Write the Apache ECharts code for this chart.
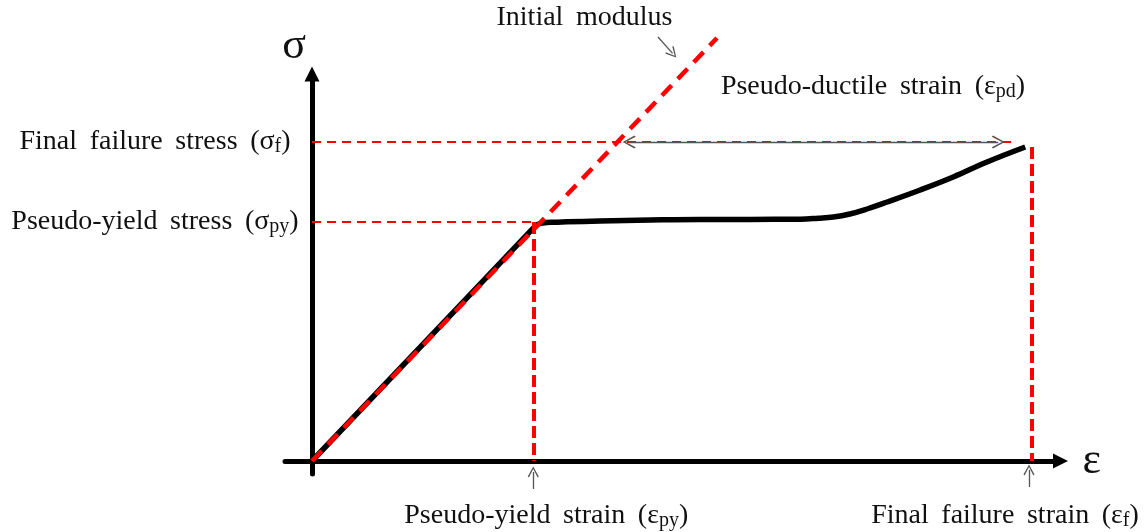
<!DOCTYPE html>
<html><head><meta charset="utf-8">
<script src="https://cdn.jsdelivr.net/npm/echarts@6/dist/echarts.min.js"></script>
<style>html,body{margin:0;padding:0;background:#fff}#c{width:1148px;height:532px}</style>
</head><body><div id="c"></div>
<script>
// Stress–strain curve (schematic units)
const curveStrain = [0, 29.5, 30.0, 30.8, 32.1, 34.0, 38.4, 45.1, 51.7, 58.4, 65.1, 67.5, 69.5, 71.7, 74.0, 76.7, 81.1, 85.5, 90.0, 95.1];
const curveStress = [0, 58.2, 59.1, 59.5, 59.7, 59.8, 60.0, 60.25, 60.4, 60.4, 60.45, 60.7, 61.0, 61.75, 63.0, 64.75, 67.75, 71.0, 74.75, 78.5];

// Characteristic points
const epsPy = 29.5, sigmaPy = 59.75;          // pseudo-yield
const epsF = 96.0, sigmaF = 79.75;            // final failure
const curveEndStress = 78.5;
const sigmaFLineEnd = 93.3;
const modulusEnd = [54, 105.75];              // end of initial modulus line
const pdStart = 42.3, pdEnd = 91.5;           // pseudo-ductile strain arrow

// Tick labels
const SP = ' \u2009';
const xLabelValues = [epsPy, epsF];
const xLabelTexts = ['{pl| }{m|Pseudo-yield' + SP + 'strain' + SP + '(ε}{s|py}{m|)}', '{m|Final' + SP + 'failure' + SP + 'strain' + SP + '(ε}{s|f}{m|)}{pr| }'];
const yLabelValues = [sigmaPy, sigmaF];
const yLabelTexts = ['{m|Pseudo-yield' + SP + 'stress' + SP + '(σ}{s|py}{m|)}', '{m|Final' + SP + 'failure' + SP + 'stress' + SP + '(σ}{s|f}{m|)}'];

const F = '"Liberation Serif", "DejaVu Serif", serif';
const TXT = '#111';
const RED = '#ff0000';
const rich = {
  m: {fontFamily: F, fontSize: 28, lineHeight: 30, color: TXT},
  s: {fontFamily: F, fontSize: 20, lineHeight: 16, verticalAlign: 'bottom', color: TXT},
  pl: {width: 26}, pr: {width: 54}
};
const CHEVRON = 'path://M5,0 L10,9 L9,10 L5,2.2 L1,10 L0,9 Z';

const chart = echarts.init(document.getElementById('c'), null, {renderer: 'canvas'});
chart.setOption({
  animation: false,
  backgroundColor: '#fff',
  grid: {left: 285, right: 87.5, top: 74, bottom: 58, containLabel: false, outerBoundsMode: 'none'},
  xAxis: {
    type: 'value', min: -3.6, max: 99.8,
    axisLine: {onZero: true, lineStyle: {color: '#000', width: 5}, symbol: ['none', 'triangle'], symbolSize: [15, 15]},
    axisTick: {show: false}, splitLine: {show: false},
    axisLabel: {
      customValues: xLabelValues, margin: 27, rich: rich,
      formatter: v => xLabelTexts[xLabelValues.indexOf(v)] || ''
    },
    name: 'ε', nameLocation: 'end', nameGap: 22,
    nameTextStyle: {fontFamily: F, fontSize: 44, color: TXT, align: 'left', verticalAlign: 'middle', padding: [0, 0, 17, 0]}
  },
  yAxis: {
    type: 'value', min: -3.25, max: 96.75,
    axisLine: {onZero: true, lineStyle: {color: '#000', width: 5}, symbol: ['none', 'triangle'], symbolSize: [15, 15]},
    axisTick: {show: false}, splitLine: {show: false},
    axisLabel: {
      customValues: yLabelValues, margin: 130, align: 'center', rich: rich,
      formatter: v => yLabelTexts[yLabelValues.indexOf(v)] || ''
    },
    name: 'σ', nameLocation: 'end', nameGap: 6,
    nameTextStyle: {fontFamily: F, fontSize: 44, color: TXT, align: 'center', padding: [0, 36, 0, 0]}
  },
  series: [
    {
      name: 'curve', type: 'line', clip: false, silent: true, symbol: 'none', smooth: 0.4, z: 3,
      lineStyle: {color: '#000', width: 5.5},
      data: curveStrain.map((x, i) => [x, curveStress[i]])
    },
    {
      name: 'guides', type: 'lines', coordinateSystem: 'cartesian2d', clip: false, silent: true, symbol: 'none', z: 4,
      lineStyle: {color: RED, opacity: 1},
      data: [
        {coords: [[0, sigmaF], [sigmaFLineEnd, sigmaF]], lineStyle: {color: RED, width: 2, type: [9, 6]}},
        {coords: [[0, sigmaPy], [epsPy, sigmaPy]], lineStyle: {color: RED, width: 2, type: [9, 6]}},
        {coords: [[epsPy, sigmaPy], [epsPy, 0]], lineStyle: {color: RED, width: 4, type: [12, 5]}},
        {coords: [[epsF, curveEndStress], [epsF, 0]], lineStyle: {color: RED, width: 4, type: [12, 5]}}
      ]
    },
    {
      name: 'initial modulus', type: 'line', clip: false, silent: true, symbol: 'none', z: 5,
      lineStyle: {color: RED, width: 4.5, type: [14, 9]},
      data: [[0, 0], modulusEnd]
    },
    {
      name: 'pd arrow', type: 'lines', coordinateSystem: 'cartesian2d', clip: false, silent: true, z: 6,
      symbol: [CHEVRON, CHEVRON], symbolSize: [13, 13],
      lineStyle: {color: '#555', width: 1.3, opacity: 1},
      data: [{coords: [[pdStart, sigmaF], [pdEnd, sigmaF]]}]
    },
    {
      name: 'pointers', type: 'lines', coordinateSystem: 'cartesian2d', clip: false, silent: true, z: 6,
      symbol: ['none', CHEVRON], symbolSize: [12, 11],
      lineStyle: {color: '#555', width: 1.3, opacity: 1},
      data: [
        {coords: [[46.13, 106], [48.08, 101.9]]},
        {coords: [[epsPy, -7], [epsPy, -2.75]]},
        {coords: [[epsF - 0.4, -6.5], [epsF - 0.4, -2.25]]}
      ]
    },
    {
      name: 'notes', type: 'scatter', clip: false, silent: true, symbolSize: 0, z: 7,
      itemStyle: {color: TXT, opacity: 1},
      label: {show: true, position: 'inside', color: TXT, opacity: 1, textBorderWidth: 0, textBorderColor: 'transparent', rich: rich},
      data: [
        {value: [36.33, 110.86], label: {formatter: '{m|Initial' + SP + 'modulus}'}},
        {value: [74.8, 93.6], label: {formatter: '{m|Pseudo-ductile' + SP + 'strain' + SP + '(ε}{s|pd}{m|)}'}}
      ]
    }
  ]
});
</script>
</body></html>
